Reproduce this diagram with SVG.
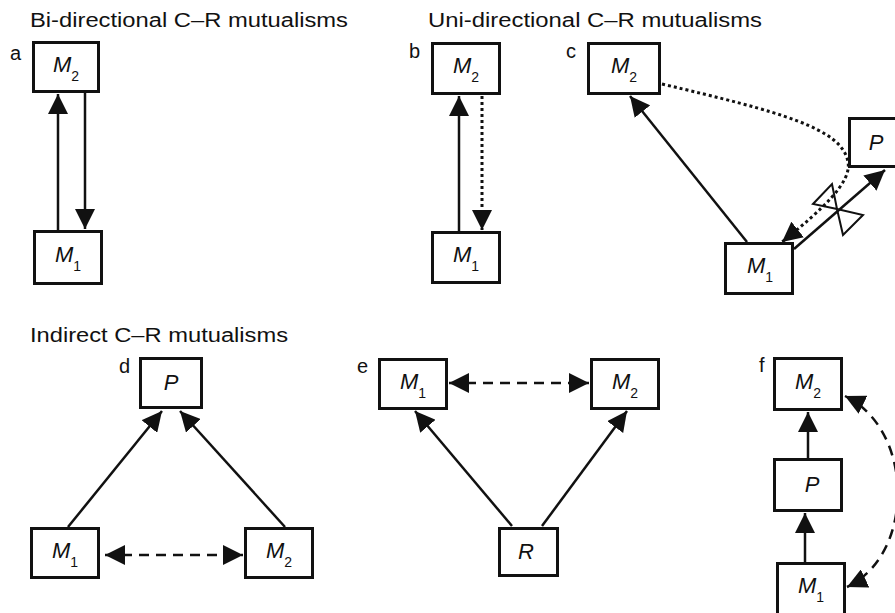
<svg xmlns="http://www.w3.org/2000/svg" width="895" height="613" viewBox="0 0 895 613">
<defs>
<marker id="ah" viewBox="0 0 20 20" refX="20" refY="10" markerWidth="20" markerHeight="20" markerUnits="userSpaceOnUse" orient="auto-start-reverse">
<path d="M0,0 L20,10 L0,20 z" fill="#111"/>
</marker>
</defs>
<style>
.box{fill:#fff;stroke:#111;stroke-width:3}
.lab{font-family:"Liberation Sans",Arial,sans-serif;font-size:20px;fill:#111}
.nd{font-family:"Liberation Sans",Arial,sans-serif;font-size:22px;fill:#111;text-anchor:middle}
.it{font-style:italic}
.sub{font-size:14px}
.s{fill:none;stroke:#111;stroke-width:2.5}
.dot{fill:none;stroke:#111;stroke-width:3;stroke-dasharray:3 3}
.dash{fill:none;stroke:#111;stroke-width:2.5;stroke-dasharray:10 7}
.bt{fill:none;stroke:#111;stroke-width:2}
</style>
<rect width="895" height="613" fill="#fff"/>

<g id="titles">
<text class="lab" x="30" y="27" textLength="318" lengthAdjust="spacingAndGlyphs">Bi-directional C–R mutualisms</text>
<text class="lab" x="428" y="27" textLength="334" lengthAdjust="spacingAndGlyphs">Uni-directional C–R mutualisms</text>
<text class="lab" x="30" y="342" textLength="258" lengthAdjust="spacingAndGlyphs">Indirect C–R mutualisms</text>
<text class="lab" x="10" y="60">a</text>
<text class="lab" x="409" y="58">b</text>
<text class="lab" x="566" y="58">c</text>
<text class="lab" x="119" y="373">d</text>
<text class="lab" x="357" y="373">e</text>
<text class="lab" x="759" y="372">f</text>
</g>

<g id="connectors">
<line class="s" x1="58" y1="230" x2="58" y2="94" marker-end="url(#ah)"/>
<line class="s" x1="85" y1="93" x2="85" y2="229" marker-end="url(#ah)"/>
<line class="s" x1="459" y1="231" x2="459" y2="96" marker-end="url(#ah)"/>
<line class="dot" x1="482" y1="96" x2="482" y2="230" marker-end="url(#ah)"/>
<line class="s" x1="747" y1="242" x2="630" y2="96" marker-end="url(#ah)"/>
<line class="s" x1="794" y1="249" x2="885" y2="170" marker-end="url(#ah)"/>
<path class="dot" d="M662,84 C780,112 842,128 848,162 C852,182 822,210 782,242" marker-end="url(#ah)"/>
<polygon class="bt" points="837,209 813,204 832,184"/>
<polygon class="bt" points="837,209 863,215 843,235"/>
<line class="s" x1="68" y1="527" x2="162" y2="411" marker-end="url(#ah)"/>
<line class="s" x1="285" y1="527" x2="180" y2="411" marker-end="url(#ah)"/>
<line class="dash" x1="105" y1="555" x2="243" y2="555" marker-start="url(#ah)" marker-end="url(#ah)"/>
<line class="s" x1="512" y1="526" x2="415" y2="411" marker-end="url(#ah)"/>
<line class="s" x1="542" y1="526" x2="627" y2="411" marker-end="url(#ah)"/>
<line class="dash" x1="449" y1="383" x2="589" y2="383" marker-start="url(#ah)" marker-end="url(#ah)"/>
<line class="s" x1="808" y1="458" x2="808" y2="412" marker-end="url(#ah)"/>
<line class="s" x1="805" y1="562" x2="805" y2="513" marker-end="url(#ah)"/>
<path class="dash" d="M845,396 C915,430 915,555 847,587" marker-start="url(#ah)" marker-end="url(#ah)"/>
</g>

<g id="a-M2"><rect class="box" x="33.5" y="42.5" width="65" height="49"/><text class="nd" x="66" y="72"><tspan class="it">M</tspan><tspan class="sub" dy="9">2</tspan></text></g>
<g id="a-M1"><rect class="box" x="34.5" y="231.5" width="67" height="52"/><text class="nd" x="68" y="262"><tspan class="it">M</tspan><tspan class="sub" dy="9">1</tspan></text></g>
<g id="b-M2"><rect class="box" x="432.5" y="43.5" width="67" height="50"/><text class="nd" x="466" y="73"><tspan class="it">M</tspan><tspan class="sub" dy="9">2</tspan></text></g>
<g id="b-M1"><rect class="box" x="432.5" y="232.5" width="67" height="50"/><text class="nd" x="466" y="262"><tspan class="it">M</tspan><tspan class="sub" dy="9">1</tspan></text></g>
<g id="c-M2"><rect class="box" x="588.5" y="43.5" width="71" height="50"/><text class="nd" x="624" y="73"><tspan class="it">M</tspan><tspan class="sub" dy="9">2</tspan></text></g>
<g id="c-P"><rect class="box" x="849.5" y="118.5" width="67" height="48"/><text class="nd it" x="876" y="150">P</text></g>
<g id="c-M1"><rect class="box" x="725.5" y="243.5" width="67" height="50"/><text class="nd" x="760" y="273"><tspan class="it">M</tspan><tspan class="sub" dy="9">1</tspan></text></g>
<g id="d-P"><rect class="box" x="140.5" y="358.5" width="61" height="49"/><text class="nd it" x="171" y="390">P</text></g>
<g id="d-M1"><rect class="box" x="31.5" y="528.5" width="67" height="49"/><text class="nd" x="65" y="558"><tspan class="it">M</tspan><tspan class="sub" dy="9">1</tspan></text></g>
<g id="d-M2"><rect class="box" x="245.5" y="528.5" width="67" height="49"/><text class="nd" x="279" y="558"><tspan class="it">M</tspan><tspan class="sub" dy="9">2</tspan></text></g>
<g id="e-M1"><rect class="box" x="379.5" y="359.5" width="67" height="49"/><text class="nd" x="413" y="389"><tspan class="it">M</tspan><tspan class="sub" dy="9">1</tspan></text></g>
<g id="e-M2"><rect class="box" x="591.5" y="359.5" width="67" height="49"/><text class="nd" x="625" y="389"><tspan class="it">M</tspan><tspan class="sub" dy="9">2</tspan></text></g>
<g id="e-R"><rect class="box" x="499.5" y="528.5" width="58" height="47"/><text class="nd it" x="526" y="559">R</text></g>
<g id="f-M2"><rect class="box" x="774.5" y="358.5" width="67" height="51"/><text class="nd" x="808" y="389"><tspan class="it">M</tspan><tspan class="sub" dy="9">2</tspan></text></g>
<g id="f-P"><rect class="box" x="774.5" y="459.5" width="67" height="51"/><text class="nd it" x="812" y="492">P</text></g>
<g id="f-M1"><rect class="box" x="777.5" y="563.5" width="67" height="51"/><text class="nd" x="811" y="593"><tspan class="it">M</tspan><tspan class="sub" dy="9">1</tspan></text></g>
</svg>
